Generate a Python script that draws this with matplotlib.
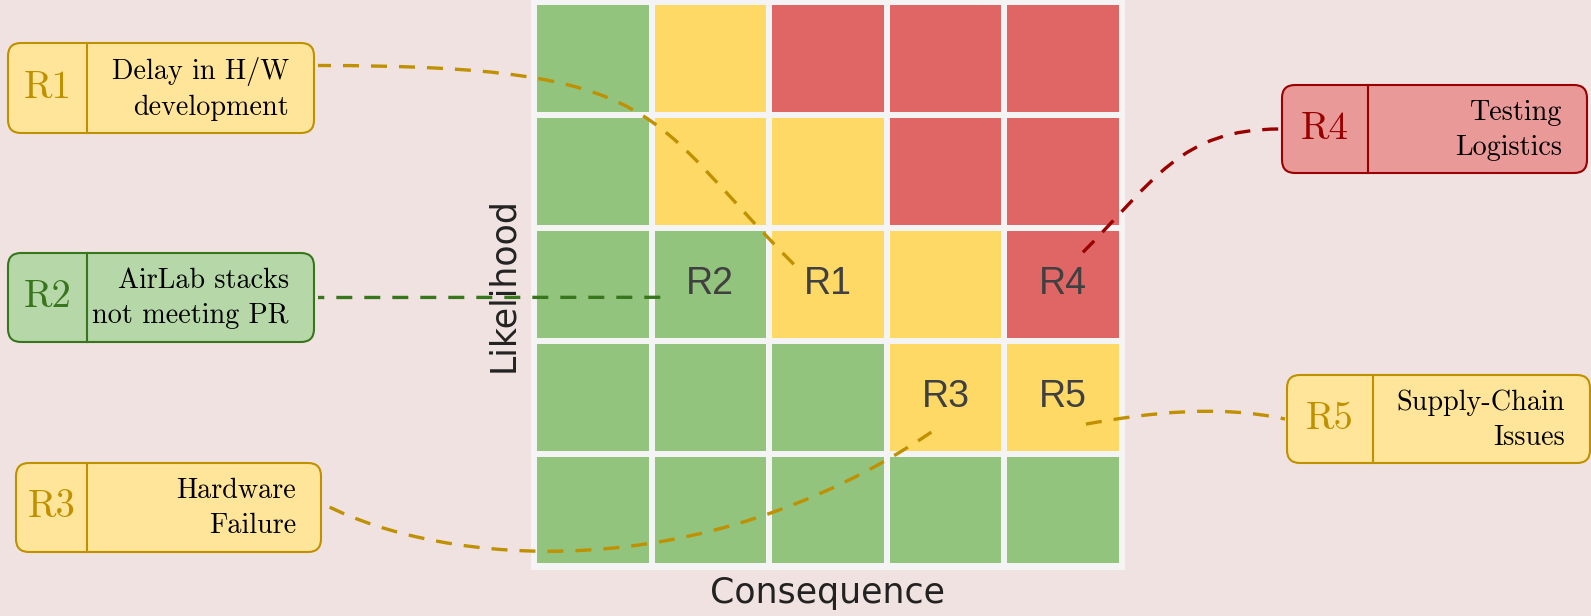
import numpy as np
import matplotlib.pyplot as plt
from matplotlib.colors import ListedColormap, BoundaryNorm
from matplotlib.patches import FancyBboxPatch, PathPatch
from matplotlib.path import Path

# ---- data ----
consequence = [1, 2, 3, 4, 5]
likelihood = [1, 2, 3, 4, 5]
# risk level of each cell (0 low, 1 medium, 2 high), rows = likelihood 1..5
levels = np.array([
    [0, 0, 0, 0, 0],
    [0, 0, 0, 1, 1],
    [0, 0, 1, 1, 2],
    [0, 1, 1, 2, 2],
    [0, 1, 2, 2, 2],
])
risk_ids = ["R1", "R2", "R3", "R4", "R5"]
risk_cons = [3, 2, 4, 5, 5]
risk_like = [3, 3, 2, 3, 2]
risk_desc = ["Delay in H/W\ndevelopment", "AirLab stacks\nnot meeting PR",
             "Hardware\nFailure", "Testing\nLogistics", "Supply-Chain\nIssues"]

# ---- style ----
W, H = 1591, 616
fig_bg = "#f0e2e0"
grid_bg = "#f4f4f4"
cell_colors = ["#93c47d", "#ffd966", "#e06666"]
box_fill = ["#b6d7a8", "#ffe599", "#ea9999"]
box_edge = ["#38761d", "#bf9000", "#990000"]

# box layout in pixels: left, top, width, height, divider offset, side
box_layout = {
    "R1": (8, 43, 306, 90, 79, "left"),
    "R2": (8, 253, 306, 89, 79, "left"),
    "R3": (16, 463, 305, 89, 71, "left"),
    "R4": (1282, 85, 305, 88, 86, "right"),
    "R5": (1287, 375, 303, 88, 86, "right"),
}
# connector: label offset (px), out angle, out dist, box anchor frac, in angle, in dist
conn = {
    "R1": ((-34, -20), 135, 212, 0.25, 0, 350),
    "R2": ((-50, 13), 180, 100, 0.5, 0, 100),
    "R3": ((-14, 35), 214, 280, 0.47, -27, 135),
    "R4": ((20, -32), 45, 100, 0.5, 180, 100),
    "R5": ((23, 27), 10, 65, 0.5, 168, 70),
}

fig = plt.figure(figsize=(W / 100, H / 100), dpi=100)
fig.patch.set_facecolor(fig_bg)

# matrix axes
ax_l, ax_r, ax_t, ax_b = 531, 1125, 0, 570
ax = fig.add_axes([ax_l / W, 1 - ax_b / H, (ax_r - ax_l) / W, (ax_b - ax_t) / H])
ax.set_facecolor(grid_bg)
edges = np.arange(0.5, 6, 1)
cmap = ListedColormap(cell_colors)
norm = BoundaryNorm([-0.5, 0.5, 1.5, 2.5], 3)
ax.pcolormesh(edges, edges, levels, cmap=cmap, norm=norm,
              edgecolors=grid_bg, linewidth=4.3)
ax.set_xlim(0.5 - 3 / 117.5, 5.5 + 3.3 / 117.5)
ax.set_ylim(0.5 - 3.7 / 112.8, 5.5 + 2.3 / 112.8)
ax.set_xticks([])
ax.set_yticks([])
for s in ax.spines.values():
    s.set_visible(False)
ax.set_xlabel("Consequence", fontsize=25, color="#222222", labelpad=4.5)
ax.set_ylabel("Likelihood", fontsize=25, color="#222222", labelpad=7.5)

for rid, c, l in zip(risk_ids, risk_cons, risk_like):
    ax.text(c, l, rid, ha="center", va="center", fontsize=27,
            color="#404040", family="Liberation Sans")

# overlay in pixel coordinates
lay = fig.add_axes([0, 0, 1, 1], zorder=3)
lay.set_xlim(0, W)
lay.set_ylim(H, 0)
lay.axis("off")


def to_px(x, y):
    return lay.transData.inverted().transform(ax.transData.transform((x, y)))


def ctrl(p, ang, dist):
    a = np.deg2rad(ang)
    return (p[0] + dist * np.cos(a), p[1] - dist * np.sin(a))


for rid, c, l, desc in zip(risk_ids, risk_cons, risk_like, risk_desc):
    lev = levels[l - 1][c - 1]
    x, y, w, h, div, side = box_layout[rid]
    (ox, oy), a_out, d_out, frac, a_in, d_in = conn[rid]

    # connector
    cx, cy = to_px(c, l)
    p0 = (cx + ox, cy + oy)
    p3 = (x + w + 4, y + frac * h) if side == "left" else (x - 2, y + frac * h)
    p1 = ctrl(p0, a_out, d_out)
    p2 = ctrl(p3, a_in, d_in)
    path = Path([p0, p1, p2, p3], [Path.MOVETO, Path.CURVE4, Path.CURVE4, Path.CURVE4])
    lay.add_patch(PathPatch(path, fill=False, edgecolor=box_edge[lev], lw=2.4,
                            linestyle=(0, (4.8, 3.6)), capstyle="butt", zorder=2))

    # box
    lay.add_patch(FancyBboxPatch((x, y), w, h, boxstyle="round,pad=0,rounding_size=13",
                                 facecolor=box_fill[lev], edgecolor=box_edge[lev],
                                 lw=1.5, zorder=3))
    lay.plot([x + div, x + div], [y, y + h], color=box_edge[lev], lw=1.5, zorder=4)
    lay.text(x + div / 2, y + h / 2, rid, ha="center", va="center", fontsize=28,
             color=box_edge[lev], family="cmr10", zorder=5)
    lay.text(x + w - 25, y + h / 2 + 1, desc, ha="right", va="center", fontsize=20.3,
             multialignment="right", linespacing=1.43, color="black",
             family="cmr10", zorder=5)

fig.savefig("out.png", dpi=100, facecolor=fig_bg)
